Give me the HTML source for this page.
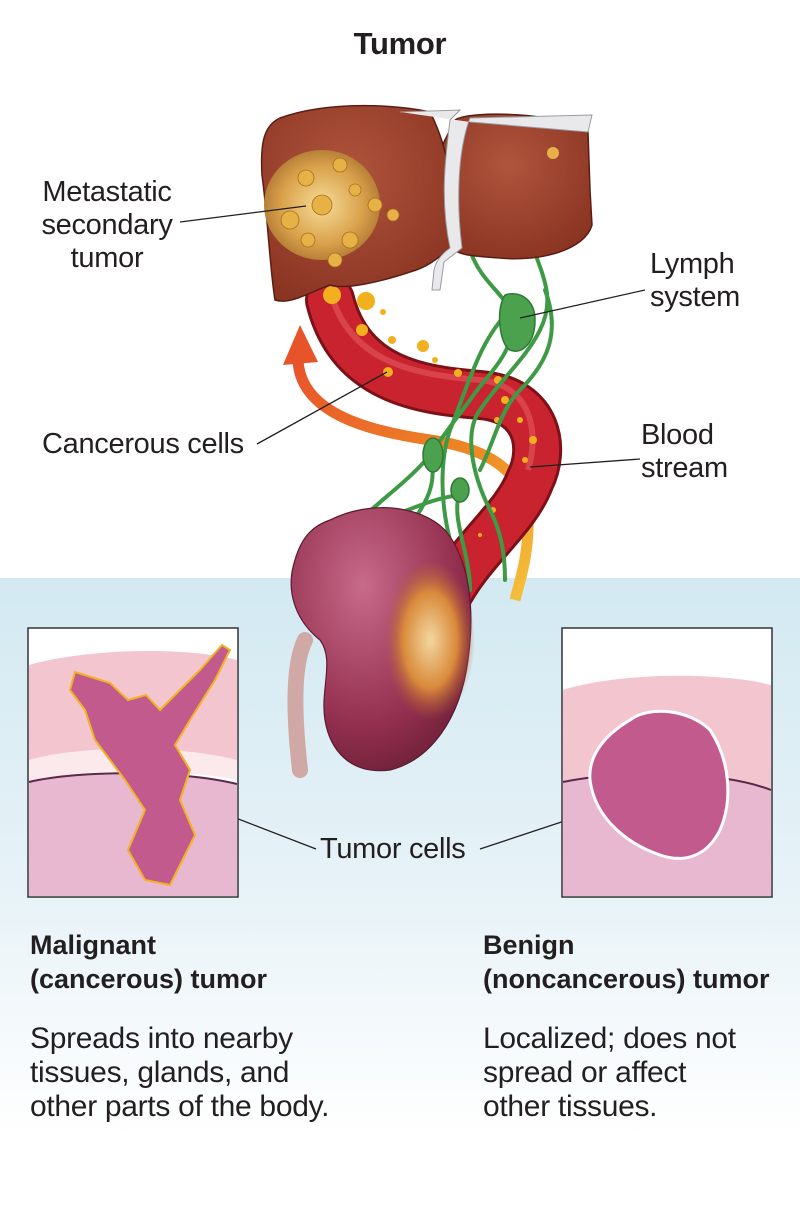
<!DOCTYPE html>
<html><head><meta charset="utf-8"><style>
html,body{margin:0;padding:0;}
body{width:800px;height:1213px;position:relative;overflow:hidden;background:#fff;font-family:"Liberation Sans",sans-serif;color:#231f20;}
.bg{position:absolute;left:0;top:578px;width:800px;height:635px;background:linear-gradient(#d3e9f2 0px,#e6f2f7 300px,#ffffff 560px);}
svg{position:absolute;left:0;top:0;}
.t{position:absolute;font-size:29px;line-height:34px;letter-spacing:-0.3px;white-space:nowrap;}
.b{font-weight:bold;font-size:27px;letter-spacing:0;}
</style></head><body>
<div class="bg"></div>
<svg width="800" height="1213" viewBox="0 0 800 1213">
<defs>
<radialGradient id="liv" cx="0.45" cy="0.35" r="0.7"><stop offset="0" stop-color="#b0553d"/><stop offset="1" stop-color="#8a3422"/></radialGradient>
<radialGradient id="tum" cx="0.5" cy="0.5" r="0.6"><stop offset="0" stop-color="#f6dd98"/><stop offset="0.6" stop-color="#d9a04a"/><stop offset="1" stop-color="#9e6a2a"/></radialGradient>
<radialGradient id="kid" cx="0.4" cy="0.3" r="0.75"><stop offset="0" stop-color="#c86a8a"/><stop offset="0.7" stop-color="#94304f"/><stop offset="1" stop-color="#6e2038"/></radialGradient>
<radialGradient id="kt" cx="0.5" cy="0.5" r="0.5"><stop offset="0" stop-color="#f3d7a0"/><stop offset="0.6" stop-color="#d98a3a"/><stop offset="1" stop-color="#b05a30" stop-opacity="0"/></radialGradient>
<linearGradient id="oa" x1="0" y1="0" x2="1" y2="1"><stop offset="0" stop-color="#e8542a"/><stop offset="0.6" stop-color="#ef8a25"/><stop offset="1" stop-color="#f4c23b"/></linearGradient>
</defs>
<path d="M298,360 C300,410 360,430 430,440 C500,450 530,480 528,530 C527,560 520,580 515,600" fill="none" stroke="url(#oa)" stroke-width="11"/>
<polygon points="283,365 300,325 318,362" fill="#e8542a"/>
<path d="M330,300 C350,380 420,390 480,395 C540,400 545,450 530,480 C515,520 470,550 445,600" fill="none" stroke="#7e1018" stroke-width="50" stroke-linecap="round"/>
<path d="M330,300 C350,380 420,390 480,395 C540,400 545,450 530,480 C515,520 470,550 445,600" fill="none" stroke="#c8232f" stroke-width="44" stroke-linecap="round"/>
<path d="M333,300 C355,365 420,375 480,380 C530,385 540,430 528,470" fill="none" stroke="#e45a60" stroke-width="6" opacity="0.6"/>
<path d="M520,490 C500,530 470,560 440,610 C432,625 428,650 432,675" fill="none" stroke="#c8232f" stroke-width="14" stroke-linecap="round"/>
<g fill="#f2b01e"><circle cx="332" cy="295" r="9"/><circle cx="366" cy="301" r="9"/><circle cx="362" cy="330" r="6"/><circle cx="383" cy="312" r="3"/><circle cx="392" cy="340" r="4"/><circle cx="423" cy="346" r="6"/><circle cx="388" cy="372" r="5"/><circle cx="435" cy="360" r="3"/><circle cx="458" cy="373" r="4"/><circle cx="498" cy="380" r="4"/><circle cx="505" cy="400" r="4"/><circle cx="533" cy="440" r="4"/><circle cx="520" cy="420" r="3"/><circle cx="525" cy="460" r="3"/><circle cx="497" cy="420" r="3"/><circle cx="493" cy="510" r="3"/><circle cx="480" cy="535" r="2"/></g>
<g fill="none" stroke="#3e9a45" stroke-width="4" stroke-linecap="round">
<path d="M470,250 C480,280 500,290 510,310 C520,350 490,370 470,400 C455,420 440,440 430,455 C410,480 380,500 355,525"/>
<path d="M530,240 C545,280 555,300 540,330 C525,360 500,380 480,410 C465,430 470,470 490,510 C500,530 505,550 505,580"/>
<path d="M510,310 C480,340 470,380 450,430 C440,460 440,500 450,540"/>
<path d="M545,290 C560,330 550,360 520,390 C500,410 495,440 480,470"/>
<path d="M430,455 C440,490 420,510 400,540"/>
<path d="M460,490 C450,520 470,550 470,590"/>
<path d="M395,515 C420,505 445,495 465,495"/>
</g>
<g fill="#4ba14e" stroke="#2d7a34" stroke-width="1.5">
<path d="M505,295 C520,290 535,300 535,320 C535,345 520,355 510,350 C500,345 495,310 505,295Z"/>
<ellipse cx="433" cy="455" rx="10" ry="17"/>
<ellipse cx="460" cy="490" rx="9" ry="12"/>
</g>
<path d="M440,150 L455,120 C470,110 560,112 588,132 L590,190 L592,225 C585,250 540,262 500,258 C470,256 455,255 450,245Z" fill="url(#liv)" stroke="#5a1f14" stroke-width="1.5"/>
<path d="M280,118 C330,100 400,105 430,112 C450,150 455,200 455,245 C445,250 435,265 410,272 C380,282 345,290 330,285 C310,292 290,305 275,300 C270,270 268,220 262,175 C260,140 265,125 280,118Z" fill="url(#liv)" stroke="#5a1f14" stroke-width="1.5"/>
<path d="M400,112 L460,110 L450,120 C445,160 440,200 450,248 C440,255 436,262 434,270 L432,290 L440,290 L444,262 L462,248 C456,200 458,150 470,118 L592,115 L588,132 L470,122" fill="#e9e9ec" stroke="#9a9aa2" stroke-width="1"/>
<ellipse cx="322" cy="205" rx="58" ry="55" fill="url(#tum)"/>
<g fill="#e6b245" stroke="#a86e20" stroke-width="0.8"><circle cx="306" cy="178" r="8"/><circle cx="340" cy="165" r="7"/><circle cx="350" cy="240" r="8"/><circle cx="335" cy="260" r="7"/><circle cx="375" cy="205" r="7"/><circle cx="393" cy="215" r="6"/><circle cx="290" cy="220" r="9"/><circle cx="322" cy="205" r="10"/><circle cx="308" cy="240" r="7"/><circle cx="355" cy="190" r="6"/></g>
<circle cx="553" cy="153" r="6" fill="#e6b245"/>
<path d="M305,640 C295,660 292,700 300,770" fill="none" stroke="#d0a8a6" stroke-width="16" stroke-linecap="round"/>
<path d="M330,520 C370,500 420,505 445,530 C470,560 475,610 468,660 C460,720 430,760 390,770 C350,775 330,750 325,720 C320,690 335,660 320,640 C295,620 285,590 295,560 C302,535 315,525 330,520Z" fill="url(#kid)" stroke="#5a1a30" stroke-width="1.2"/>
<ellipse cx="430" cy="640" rx="45" ry="80" fill="url(#kt)"/>
<g stroke="#231f20" stroke-width="1.3" fill="none">
<line x1="180" y1="222" x2="306" y2="206"/>
<line x1="645" y1="290" x2="520" y2="318"/>
<line x1="257" y1="444" x2="387" y2="372"/>
<line x1="640" y1="459" x2="530" y2="467"/>
<line x1="316" y1="849" x2="166" y2="791"/>
<line x1="480" y1="849" x2="655" y2="791"/>
</g>
<rect x="28" y="628" width="210" height="269" fill="#ffffff" stroke="#333" stroke-width="1.5"/>
<path d="M29,665 C80,650 180,645 237,660 L237,780 C180,765 80,760 29,780Z" fill="#f3c5cf"/>
<path d="M29,760 C80,745 180,745 237,760 L237,780 C180,768 80,768 29,782Z" fill="#fbe9ec"/>
<path d="M29,782 C80,770 180,770 237,784 L237,896 L29,896Z" fill="#e8b7d0"/>
<path d="M29,782 C80,770 180,770 237,784" fill="none" stroke="#5a2a48" stroke-width="2"/>
<path d="M75,672 L110,683 L128,700 L146,695 L160,710 L200,670 L222,645 L230,650 L215,680 L190,720 L175,745 L190,770 L180,800 L195,835 L170,885 L145,880 L128,850 L145,810 L125,780 L110,760 L95,740 L85,710 L70,690Z" fill="#c25a8e" stroke="#f0b323" stroke-width="2"/>
<rect x="562" y="628" width="210" height="269" fill="#ffffff" stroke="#333" stroke-width="1.5"/>
<path d="M563,690 C620,672 720,672 771,685 L771,790 C720,776 620,776 563,790Z" fill="#f3c5cf"/>
<path d="M563,782 C620,770 720,770 771,790 L771,896 L563,896Z" fill="#e8b7d0"/>
<path d="M563,782 C620,770 720,770 771,790" fill="none" stroke="#5a2a48" stroke-width="2"/>
<path d="M630,720 C650,705 690,710 710,730 C730,760 733,800 720,830 C705,860 680,862 660,855 C630,845 595,820 590,780 C588,755 605,735 630,720Z" fill="#c25a8e" stroke="#fff" stroke-width="3"/>
</svg>
<div class="t" style="left:0;width:800px;text-align:center;top:27px;font-size:31px;font-weight:bold;">Tumor</div>
<div class="t" style="left:23px;top:176px;text-align:center;width:168px;line-height:33px;">Metastatic<br>secondary<br>tumor</div>
<div class="t" style="left:650px;top:248px;line-height:33px;">Lymph<br>system</div>
<div class="t" style="left:42px;top:427px;">Cancerous cells</div>
<div class="t" style="left:641px;top:419px;line-height:33px;">Blood<br>stream</div>
<div class="t" style="left:320px;top:832px;">Tumor cells</div>
<div class="t b" style="left:30px;top:928px;">Malignant<br>(cancerous) tumor</div>
<div class="t" style="left:30px;top:1022px;font-size:30px;">Spreads into nearby<br>tissues, glands, and<br>other parts of the body.</div>
<div class="t b" style="left:483px;top:928px;">Benign<br>(noncancerous) tumor</div>
<div class="t" style="left:483px;top:1022px;font-size:30px;">Localized; does not<br>spread or affect<br>other tissues.</div>
</body></html>
